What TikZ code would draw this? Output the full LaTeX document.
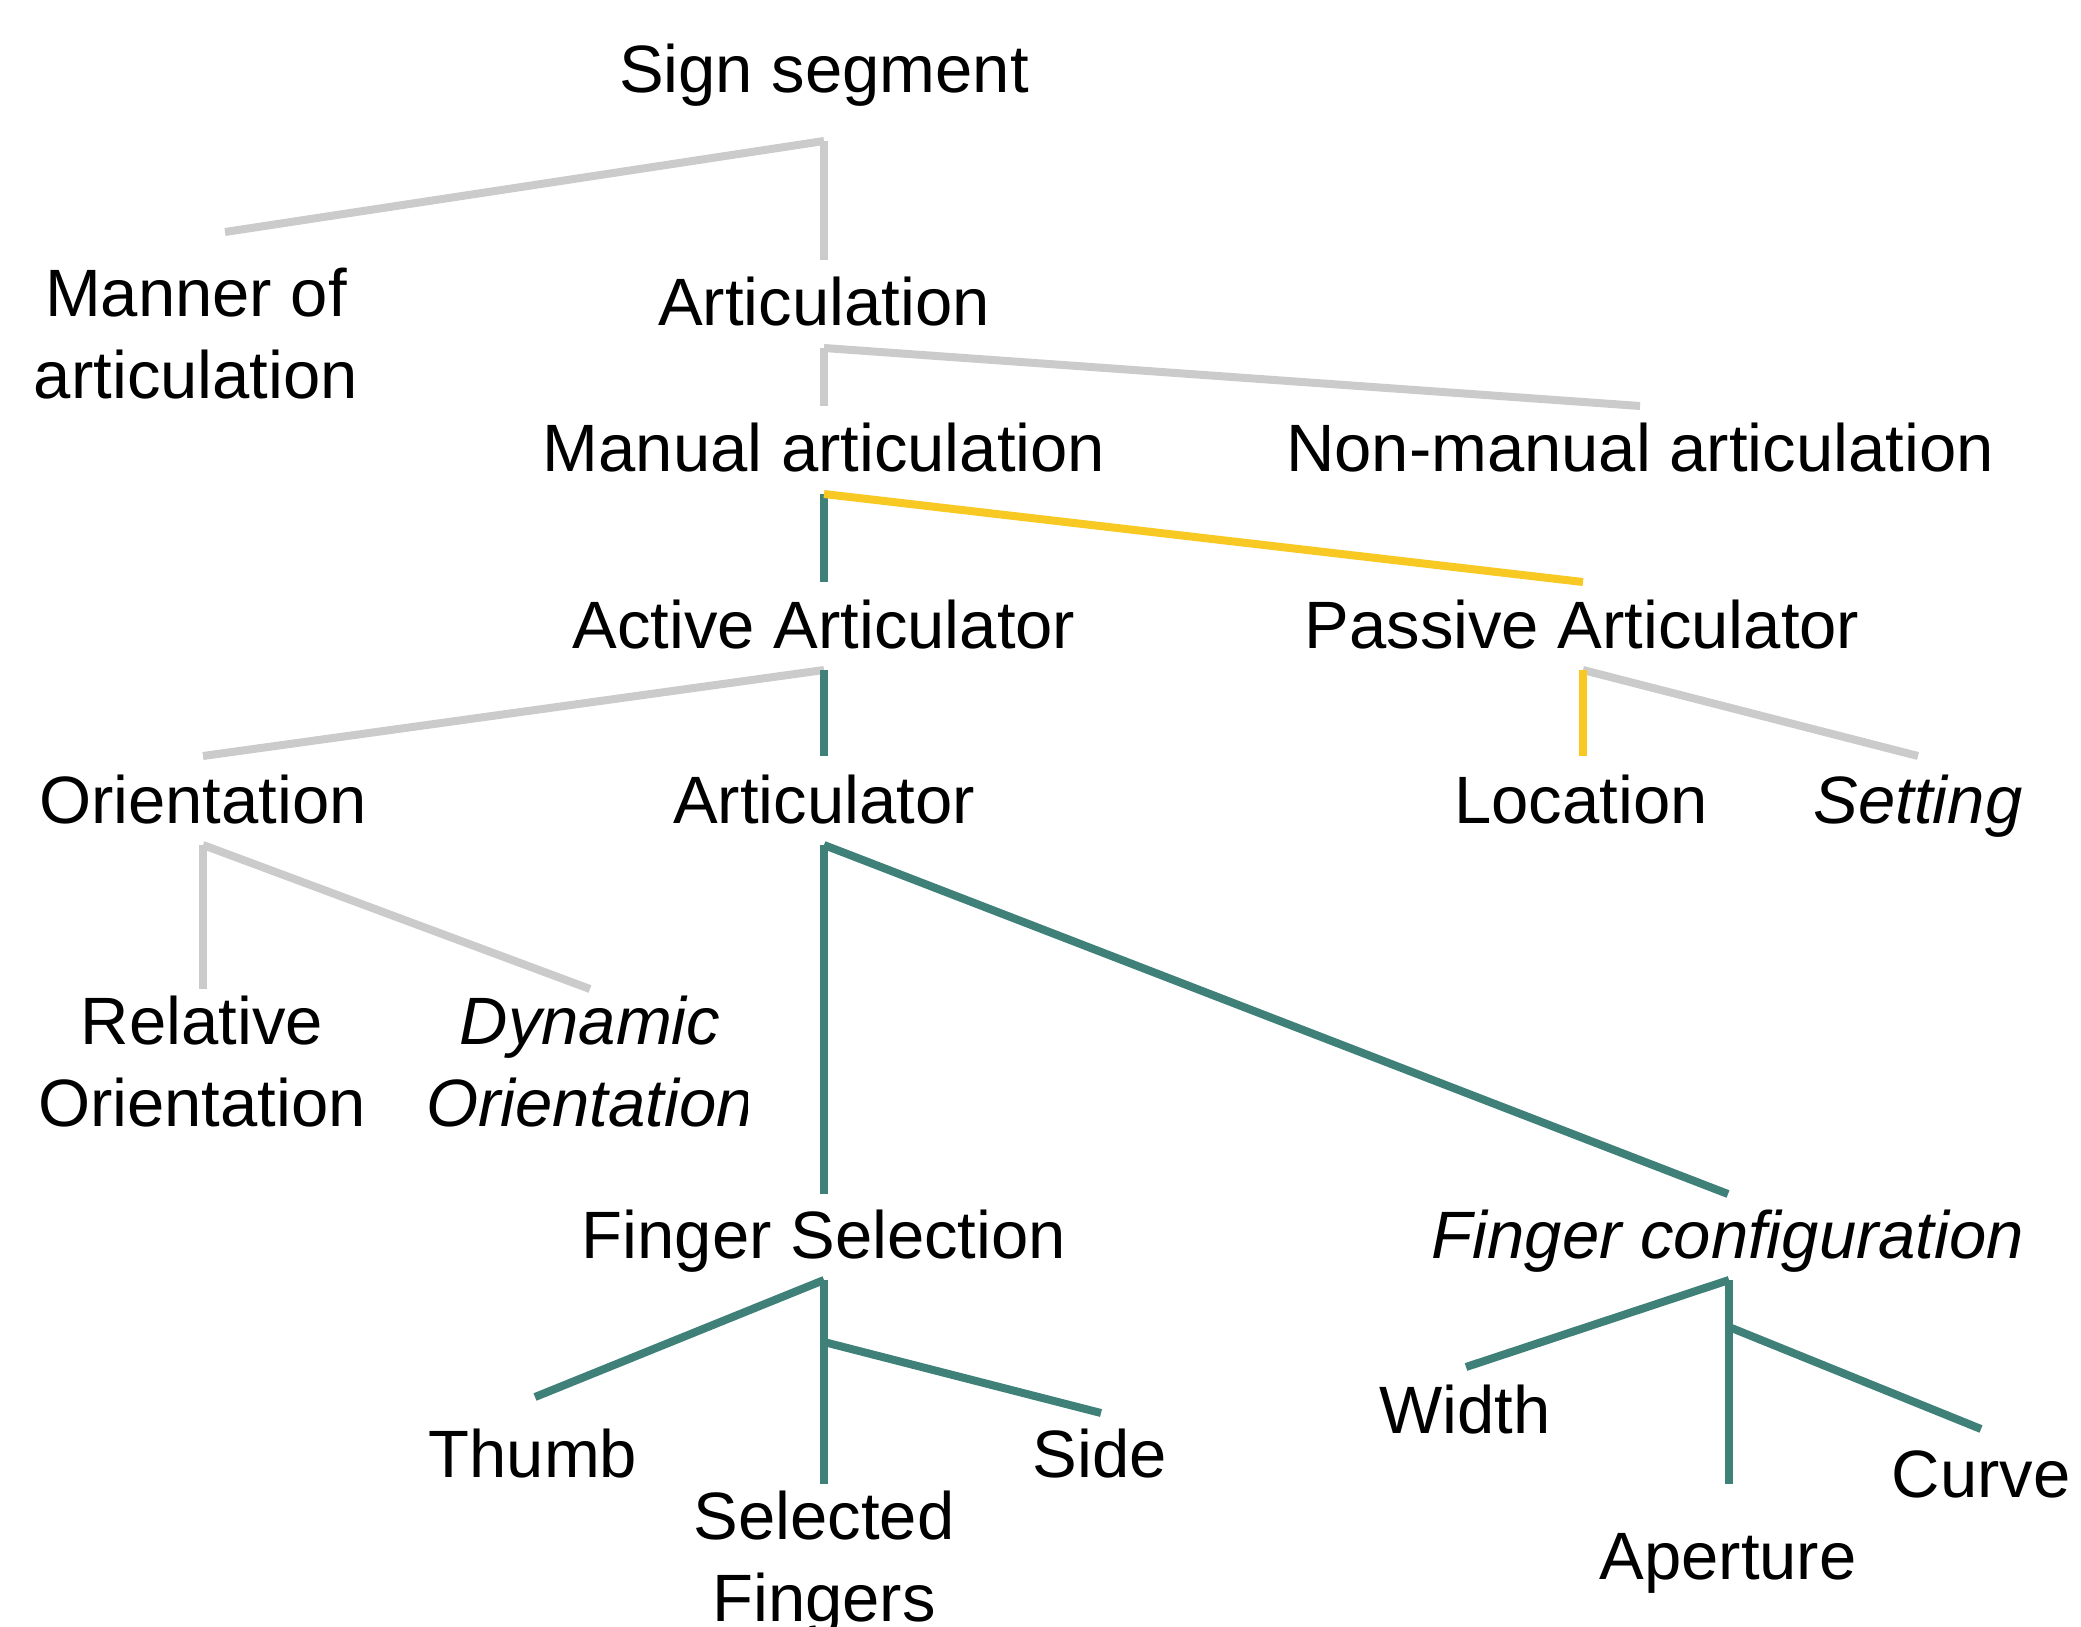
\documentclass[tikz,border=0pt]{standalone}
\usepackage{fontspec}
\setmainfont{Liberation Sans}
\definecolor{lgray}{HTML}{CBCBCB}
\definecolor{tealc}{HTML}{3F8079}
\definecolor{goldc}{HTML}{F7C922}
\newcommand\twol[2]{\begin{tabular}[t]{@{}c@{}}#1\\#2\end{tabular}}
\begin{document}
\begin{tikzpicture}[x=1pt,y=-1pt,
  lbl/.style={inner sep=0pt, anchor=base, font=\fontsize{67}{82}\selectfont},
  gl/.style={draw=lgray, line width=8pt},
  tl/.style={draw=tealc, line width=8pt},
  yl/.style={draw=goldc, line width=8pt}]
\useasboundingbox (0,0) rectangle (2081,1627);
\clip (0,0) rectangle (2081,1627);
% nodes
\node[lbl] (sign) at (824,93) {Sign segment};
\node[lbl] (manner) at (196,316) {\twol{Manner of}{articulation}};
\node[lbl] (artic) at (824,325) {Articulation};
\node[lbl] (manual) at (824,471) {Manual articulation};
\node[lbl] (nonman) at (1640,471) {Non-manual articulation};
\node[lbl] (active) at (824,648) {Active Articulator};
\node[lbl] (passive) at (1582,648) {Passive Articulator};
\node[lbl] (orient) at (203,823) {Orientation};
\node[lbl] (articr) at (824,823) {Articulator};
\node[lbl] (loc) at (1581,823) {Location};
\node[lbl] (setting) at (1918,823) {\itshape Setting};
\node[lbl] (relor) at (202,1044) {\twol{Relative}{Orientation}};
\begin{scope}
\clip (0,900) rectangle (747,1200);
\node[lbl] (dynor) at (590,1044) {\itshape\twol{Dynamic}{Orientation}};
\end{scope}
\node[lbl] (fsel) at (824,1258) {Finger Selection};
\node[lbl] (fconf) at (1728,1258) {\itshape Finger configuration};
\node[lbl] (thumb) at (533,1477) {Thumb};
\node[lbl] (side) at (1100,1477) {Side};
\node[lbl] (selfing) at (824,1539) {\twol{Selected}{Fingers}};
\node[lbl] (width) at (1465,1433) {Width};
\node[lbl] (curve) at (1981,1497) {Curve};
\node[lbl] (aperture) at (1728,1579) {Aperture};
% junction and end coordinates
\coordinate (sign-j) at (824,141);
\coordinate (manner-t) at (225,232);
\coordinate (artic-t) at (824,260);
\coordinate (artic-j) at (824,348);
\coordinate (manual-t) at (824,406);
\coordinate (nonman-t) at (1640,406);
\coordinate (manual-j) at (824,494);
\coordinate (active-t) at (824,582);
\coordinate (passive-t) at (1583,582);
\coordinate (active-j) at (824,670);
\coordinate (orient-t) at (203,756);
\coordinate (articr-t) at (824,756);
\coordinate (passive-j) at (1583,670);
\coordinate (loc-t) at (1583,756);
\coordinate (setting-t) at (1918,756);
\coordinate (orient-j) at (203,845);
\coordinate (relor-t) at (203,989);
\coordinate (dynor-t) at (590,989);
\coordinate (articr-j) at (824,845);
\coordinate (fsel-t) at (824,1194);
\coordinate (fconf-t) at (1728,1194);
\coordinate (fsel-j) at (824,1280);
\coordinate (thumb-t) at (535,1397);
\coordinate (selfing-t) at (824,1484);
\coordinate (fsel-k) at (824,1342);
\coordinate (side-t) at (1101,1413);
\coordinate (fconf-j) at (1729,1280);
\coordinate (width-t) at (1466,1367);
\coordinate (aperture-t) at (1729,1484);
\coordinate (fconf-k) at (1729,1327);
\coordinate (curve-t) at (1981,1429);
% gray connectors
\draw[gl] (sign-j) -- (manner-t);
\draw[gl] (sign-j) -- (artic-t);
\draw[gl] (artic-j) -- (manual-t);
\draw[gl] (artic-j) -- (nonman-t);
\draw[gl] (active-j) -- (orient-t);
\draw[gl] (passive-j) -- (setting-t);
\draw[gl] (orient-j) -- (relor-t);
\draw[gl] (orient-j) -- (dynor-t);
% teal connectors
\draw[tl] (manual-j) -- (active-t);
\draw[tl] (active-j) -- (articr-t);
\draw[tl] (articr-j) -- (fsel-t);
\draw[tl] (articr-j) -- (fconf-t);
\draw[tl] (fsel-j) -- (thumb-t);
\draw[tl] (fsel-j) -- (selfing-t);
\draw[tl] (fsel-k) -- (side-t);
\draw[tl] (fconf-j) -- (width-t);
\draw[tl] (fconf-j) -- (aperture-t);
\draw[tl] (fconf-k) -- (curve-t);
% yellow connectors
\draw[yl] (manual-j) -- (passive-t);
\draw[yl] (passive-j) -- (loc-t);
\end{tikzpicture}
\end{document}
